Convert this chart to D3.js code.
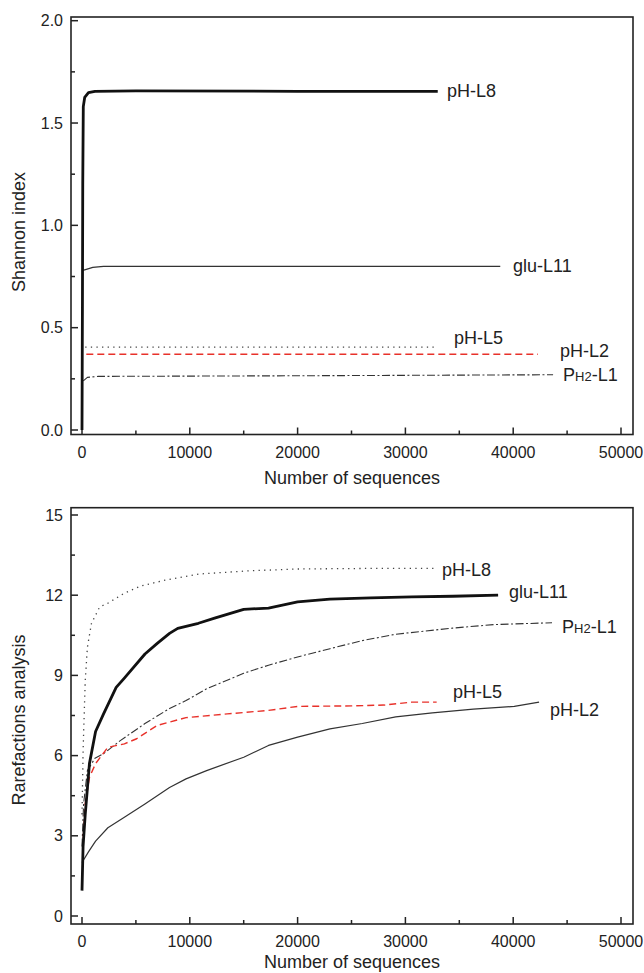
<!DOCTYPE html>
<html>
<head>
<meta charset="utf-8">
<script src="https://cdn.jsdelivr.net/npm/d3@7"></script>
<style>
  body { margin: 0; background: #fff; }
  svg { display: block; font-family: "Liberation Sans", Arial, sans-serif; }
</style>
</head>
<body>
<svg id="chart" width="644" height="973"></svg>
<script>
// x ticks shared by both panels
const xTicks = [0, 10000, 20000, 30000, 40000, 50000];

// Shannon index curves [sequences, index]
const shannonPHL8 = [[0, 0], [40, 0.6], [70, 1.2], [120, 1.58], [250, 1.625], [600, 1.648], [1200, 1.655], [5000, 1.657], [20000, 1.655], [33000, 1.655]];
const shannonGluL11 = [[80, 0.78], [400, 0.785], [1000, 0.795], [2000, 0.8], [20000, 0.8], [38800, 0.8]];
const shannonPHL5 = [[300, 0.405], [32800, 0.405]];
const shannonPHL2 = [[400, 0.37], [42300, 0.37]];
const shannonPH2L1 = [[120, 0.24], [500, 0.257], [1500, 0.262], [20000, 0.265], [43700, 0.27]];

// Rarefaction curves [sequences, OTUs]
const rarePHL8 = [[0, 3.8], [110, 6.3], [300, 8.8], [500, 10.05], [880, 10.95], [1640, 11.56], [2400, 11.7], [3900, 12.07], [5500, 12.35], [7700, 12.56], [10800, 12.79], [15400, 12.91], [20000, 12.98], [26000, 13.0], [33000, 13.0]];
const rareGluL11 = [[0, 0.95], [100, 2.6], [300, 3.8], [690, 5.7], [1260, 6.9], [2000, 7.56], [3170, 8.55], [3930, 8.9], [5840, 9.8], [6980, 10.2], [8120, 10.57], [8880, 10.76], [10800, 10.95], [12300, 11.14], [15000, 11.47], [17300, 11.52], [20000, 11.75], [23000, 11.85], [26800, 11.9], [30600, 11.94], [34400, 11.96], [38600, 12.0]];
const rarePH2L1 = [[0, 2.6], [150, 4.2], [500, 5.44], [1200, 5.9], [2000, 6.07], [3550, 6.56], [5840, 7.2], [8120, 7.76], [9650, 8.06], [11560, 8.5], [15000, 9.08], [17300, 9.38], [20000, 9.69], [23000, 10.0], [26000, 10.3], [29100, 10.54], [34400, 10.77], [38200, 10.9], [43600, 10.97]];
const rarePHL5 = [[60, 2.5], [300, 4.2], [700, 5.2], [1260, 5.7], [2400, 6.31], [3930, 6.44], [5070, 6.63], [6980, 7.13], [9650, 7.42], [13470, 7.56], [17300, 7.69], [20000, 7.84], [25000, 7.86], [28000, 7.89], [30600, 8.0], [32900, 8.0]];
const rarePHL2 = [[0, 2.0], [600, 2.4], [1260, 2.8], [2400, 3.3], [3930, 3.69], [5840, 4.19], [8120, 4.81], [9650, 5.13], [11560, 5.44], [15000, 5.94], [17300, 6.38], [20000, 6.69], [23000, 7.0], [26000, 7.2], [29100, 7.45], [32500, 7.6], [36300, 7.74], [40100, 7.84], [42400, 8.0]];

// line styles
const styles = {
  thick: { stroke: "#111", width: 2.8, dash: null },
  thin: { stroke: "#333", width: 1.2, dash: null },
  dotted: { stroke: "#444", width: 1.3, dash: "1.3,4.3" },
  red: { stroke: "#e8312a", width: 1.4, dash: "7,4" },
  dashdot: { stroke: "#333", width: 1.1, dash: "8,2.5,2,2.5" }
};

const svg = d3.select("#chart");

function panel({ top, bottom, yMax, yMajor, yMinor, yFmt, yTitle, titleY, series }) {
  const frameL = 71, frameR = 633;
  const x = d3.scaleLinear().domain([0, 50000]).range([82, 621]);
  const y = d3.scaleLinear().domain([0, yMax]).range([top.zero, top.max]);
  const g = svg.append("g");

  // ticks (inward)
  const xMinor = d3.range(5000, 50000, 10000);
  g.selectAll(".xt").data(xTicks).join("line")
    .attr("x1", d => x(d)).attr("x2", d => x(d))
    .attr("y1", bottom).attr("y2", bottom - 7)
    .attr("stroke", "#222").attr("stroke-width", 1.5);
  g.selectAll(".xm").data(xMinor).join("line")
    .attr("x1", d => x(d)).attr("x2", d => x(d))
    .attr("y1", bottom).attr("y2", bottom - 4)
    .attr("stroke", "#222").attr("stroke-width", 1.5);
  g.selectAll(".yt").data(yMajor).join("line")
    .attr("x1", frameL).attr("x2", frameL + 7)
    .attr("y1", d => y(d)).attr("y2", d => y(d))
    .attr("stroke", "#222").attr("stroke-width", 1.5);
  g.selectAll(".ym").data(yMinor).join("line")
    .attr("x1", frameL).attr("x2", frameL + 4)
    .attr("y1", d => y(d)).attr("y2", d => y(d))
    .attr("stroke", "#222").attr("stroke-width", 1.5);

  // tick labels
  g.selectAll(".xl").data(xTicks).join("text")
    .attr("x", d => x(d)).attr("y", bottom + 23)
    .attr("text-anchor", "middle").attr("font-size", 16).attr("fill", "#222")
    .text(d => d);
  g.selectAll(".yl").data(yMajor).join("text")
    .attr("x", frameL - 8).attr("y", d => y(d) + 5.5)
    .attr("text-anchor", "end").attr("font-size", 16).attr("fill", "#222")
    .text(yFmt);

  // titles
  g.append("text")
    .attr("x", 352).attr("y", Math.min(bottom + 49, 968))
    .attr("text-anchor", "middle").attr("font-size", 18).attr("fill", "#222")
    .text("Number of sequences");
  g.append("text")
    .attr("transform", `translate(25,${titleY}) rotate(-90)`)
    .attr("text-anchor", "middle").attr("font-size", 18).attr("fill", "#222")
    .text(yTitle);

  // curves
  const line = d3.line().x(d => x(d[0])).y(d => y(d[1]));
  series.forEach(s => {
    const st = styles[s.style];
    g.append("path").datum(s.values)
      .attr("d", line)
      .attr("fill", "none")
      .attr("stroke", st.stroke)
      .attr("stroke-width", st.width)
      .attr("stroke-dasharray", st.dash)
      .attr("stroke-linejoin", "round");
    const t = g.append("text")
      .attr("x", s.lx).attr("y", s.ly)
      .attr("font-size", 18).attr("fill", "#222");
    if (s.sub) {
      t.append("tspan").text("P");
      t.append("tspan").attr("font-size", 13).text("H2");
      t.append("tspan").text("-L1");
    } else {
      t.text(s.name);
    }
  });

  // frame
  g.append("rect")
    .attr("x", frameL).attr("y", top.frame)
    .attr("width", frameR - frameL).attr("height", bottom - top.frame)
    .attr("fill", "none").attr("stroke", "#222").attr("stroke-width", 1.6);
}

panel({
  top: { frame: 17, zero: 430, max: 20.7 },
  bottom: 434.5,
  yMax: 2,
  yMajor: [0, 0.5, 1, 1.5, 2],
  yMinor: [0.25, 0.75, 1.25, 1.75],
  yFmt: d => d.toFixed(1),
  yTitle: "Shannon index",
  titleY: 232,
  series: [
    { name: "glu-L11", values: shannonGluL11, style: "thin", lx: 513, ly: 272 },
    { name: "pH-L5", values: shannonPHL5, style: "dotted", lx: 454, ly: 344 },
    { name: "pH-L2", values: shannonPHL2, style: "red", lx: 560, ly: 357 },
    { name: "PH2-L1", values: shannonPH2L1, style: "dashdot", lx: 563, ly: 381, sub: true },
    { name: "pH-L8", values: shannonPHL8, style: "thick", lx: 447, ly: 97 }
  ]
});

panel({
  top: { frame: 507.7, zero: 916, max: 515 },
  bottom: 924,
  yMax: 15,
  yMajor: [0, 3, 6, 9, 12, 15],
  yMinor: [1.5, 4.5, 7.5, 10.5, 13.5],
  yFmt: d => d,
  yTitle: "Rarefactions analysis",
  titleY: 720,
  series: [
    { name: "pH-L8", values: rarePHL8, style: "dotted", lx: 442, ly: 576 },
    { name: "PH2-L1", values: rarePH2L1, style: "dashdot", lx: 562, ly: 633, sub: true },
    { name: "pH-L5", values: rarePHL5, style: "red", lx: 453, ly: 698 },
    { name: "pH-L2", values: rarePHL2, style: "thin", lx: 550, ly: 716 },
    { name: "glu-L11", values: rareGluL11, style: "thick", lx: 509, ly: 598 }
  ]
});
</script>
</body>
</html>
